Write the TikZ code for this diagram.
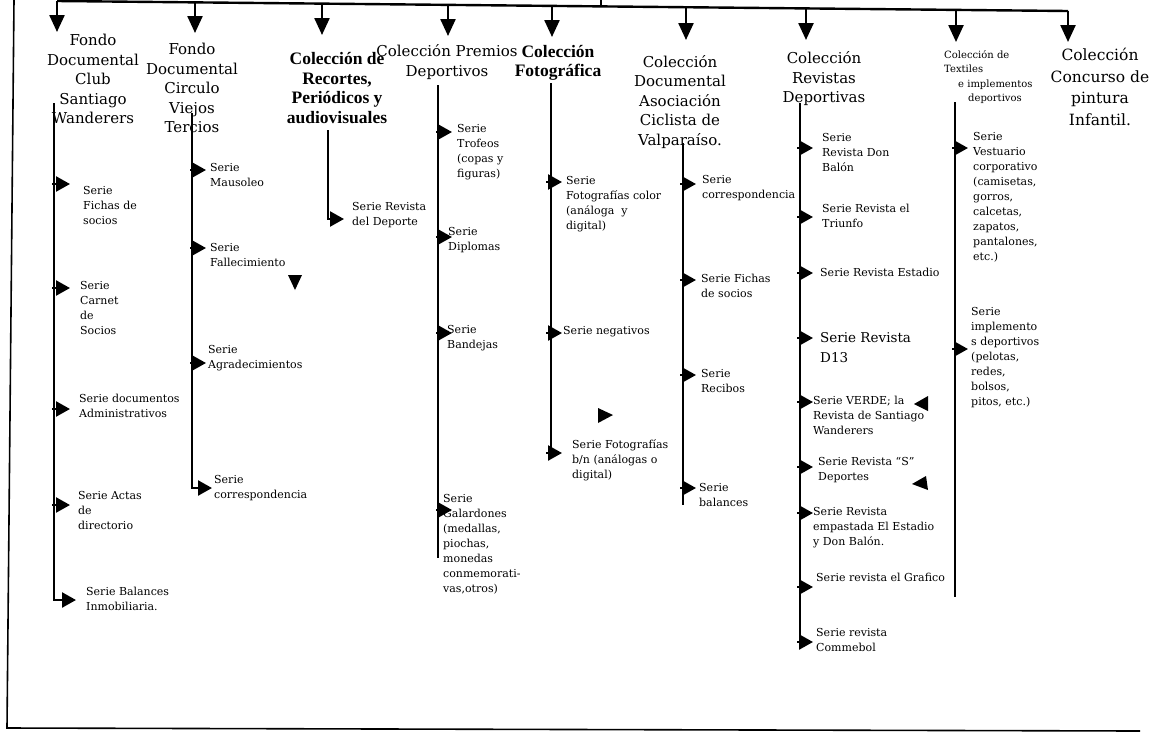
\documentclass[tikz,border=0pt]{standalone}
\usepackage{fontspec}
\setmainfont{DejaVu Serif}
\newfontfamily\boldtitle{Liberation Serif}
\usetikzlibrary{arrows.meta}
\begin{document}
\begin{tikzpicture}[x=1pt,y=-1pt,
  ln/.style={line width=2.4pt},
  downarr/.style={ln,-{Triangle[length=17pt,width=15pt]}},
  sarr/.style={ln,-{Triangle[length=14pt,width=15pt]}},
  ttl/.style={align=center,inner sep=0pt,font=\fontsize{15}{19.5}\selectfont},
  bttl/.style={align=center,inner sep=0pt,font=\boldtitle\bfseries\fontsize{17.5}{19.5}\selectfont},
  ser/.style={align=left,anchor=west,inner sep=0pt,font=\fontsize{11}{15}\selectfont},
  stray/.style={fill=black}
]
\useasboundingbox (0,0) rectangle (1173,740);
% frame
\draw[line width=1.6pt] (14,0) -- (7,728) -- (1140,731);
% top bus
\coordinate (h1) at (57,1);
\coordinate (h2) at (195,2.4);
\coordinate (h3) at (322,3.6);
\coordinate (h4) at (448,4.9);
\coordinate (h5) at (552,5.9);
\coordinate (hp) at (601,6.4);
\coordinate (h6) at (686,7.2);
\coordinate (h7) at (806,8.4);
\coordinate (h8) at (956,9.9);
\coordinate (h9) at (1068,11);
\coordinate (up) at (601,0);
\draw[ln] (h1) -- (h9);
\draw[ln] (up) -- (hp);
\draw[downarr] (h1) -- (57,32);
\draw[downarr] (h2) -- (195,33);
\draw[downarr] (h3) -- (322,35);
\draw[downarr] (h4) -- (448,36);
\draw[downarr] (h5) -- (552,37);
\draw[downarr] (h6) -- (686,40);
\draw[downarr] (h7) -- (806,40);
\draw[downarr] (h8) -- (956,42);
\draw[downarr] (h9) -- (1068,42);
% titles
\node[ttl] (t1) at (93,79) {Fondo\\Documental\\Club\\Santiago\\Wanderers};
\node[ttl] (t2) at (192,88) {Fondo\\Documental\\Circulo\\Viejos\\Tercios};
\node[bttl] (t3) at (337,88) {Colección de\\Recortes,\\Periódicos y\\audiovisuales};
\node[ttl] (t4) at (447,62) {Colección Premios\\Deportivos};
\node[bttl] (t5) at (558,63) {Colección\\Fotográfica};
\node[ttl] (t6) at (680,102) {Colección\\Documental\\Asociación\\Ciclista de\\Valparaíso.};
\node[ttl] (t7) at (824,79) {Colección\\Revistas\\Deportivas};
\node[align=left,anchor=west,inner sep=0pt,font=\fontsize{10}{14.5}\selectfont] (t8) at (944,77) {Colección de\\Textiles\\\hspace*{14pt}e implementos\\\hspace*{24pt}deportivos};
\node[ttl,font=\fontsize{15.5}{21.5}\selectfont] (t9) at (1100,87) {Colección\\Concurso de\\pintura\\Infantil.};
% column 1
\coordinate (v1a) at (54,103);
\coordinate (v1b) at (54,600);
\coordinate (v1c) at (76,600);
\draw[sarr] (v1a) -- (v1b) -- (v1c);
\foreach \y in {184,288,409,505} \draw[sarr] (52,\y) -- (70,\y);
\node[ser] (s11) at (83,205) {Serie\\Fichas de\\socios};
\node[ser] (s12) at (80,308) {Serie\\Carnet\\de\\Socios};
\node[ser] (s13) at (79,406) {Serie documentos\\Administrativos};
\node[ser] (s14) at (78,510) {Serie Actas\\de\\directorio};
\node[ser] (s15) at (86,599) {Serie Balances\\Inmobiliaria.};
% column 2
\coordinate (v2a) at (192,113);
\coordinate (v2b) at (192,488);
\coordinate (v2c) at (212,488);
\draw[sarr] (v2a) -- (v2b) -- (v2c);
\foreach \y in {170,248,363} \draw[sarr] (190,\y) -- (206,\y);
\node[ser] (s21) at (210,175) {Serie\\Mausoleo};
\node[ser] (s22) at (210,255) {Serie\\Fallecimiento};
\node[ser] (s23) at (208,358) {Serie\\Agradecimientos};
\node[ser] (s24) at (214,488) {Serie\\correspondencia};
\fill[stray] (288,275) -- (302,275) -- (295,290) -- cycle;
% column 3
\coordinate (v3a) at (328,130);
\coordinate (v3b) at (328,219);
\coordinate (v3c) at (344,219);
\draw[sarr] (v3a) -- (v3b) -- (v3c);
\node[ser] (s31) at (352,215) {Serie Revista\\del Deporte};
% column 4
\coordinate (v4a) at (438,85);
\coordinate (v4b) at (438,558);
\draw[ln] (v4a) -- (v4b);
\foreach \y in {132,237,333,510} \draw[sarr] (436,\y) -- (452,\y);
\node[ser] (s41) at (457,152) {Serie\\Trofeos\\(copas y\\figuras)};
\node[ser] (s42) at (448,240) {Serie\\Diplomas};
\node[ser] (s43) at (447,338) {Serie\\Bandejas};
\node[ser] (s44) at (443,544) {Serie\\Galardones\\(medallas,\\piochas,\\monedas\\conmemorati-\\vas,otros)};
% column 5
\coordinate (v5a) at (551,83);
\coordinate (v5b) at (551,453);
\draw[ln] (v5a) -- (v5b);
\foreach \y in {182,333,453} \draw[sarr] (546,\y) -- (562,\y);
\node[ser] (s51) at (566,204) {Serie\\Fotografías color\\(análoga~ y\\digital)};
\node[ser] (s52) at (563,332) {Serie negativos};
\node[ser] (s53) at (572,460) {Serie Fotografías\\b/n (análogas o\\digital)};
\fill[stray] (598,408) -- (598,423) -- (613,415) -- cycle;
% column 6
\coordinate (v6a) at (683,143);
\coordinate (v6b) at (683,505);
\draw[ln] (v6a) -- (v6b);
\foreach \y in {184,280,375,488} \draw[sarr] (680,\y) -- (696,\y);
\node[ser] (s61) at (702,188) {Serie\\correspondencia};
\node[ser] (s62) at (701,286) {Serie Fichas\\de socios};
\node[ser] (s63) at (701,381) {Serie\\Recibos};
\node[ser] (s64) at (699,495) {Serie\\balances};
% column 7
\coordinate (v7a) at (800,103);
\coordinate (v7b) at (800,642);
\draw[ln] (v7a) -- (v7b);
\foreach \y in {148,217,273,338,402,467,513,587,642} \draw[sarr] (797,\y) -- (813,\y);
\node[ser] (s71) at (822,152) {Serie\\Revista Don\\Balón};
\node[ser] (s72) at (822,216) {Serie Revista el\\Triunfo};
\node[ser] (s73) at (820,272) {Serie Revista Estadio};
\node[ser,font=\fontsize{13.5}{20}\selectfont] (s74) at (820,348) {Serie Revista\\D13};
\node[ser] (s75) at (813,415) {Serie VERDE; la\\Revista de Santiago\\Wanderers};
\node[ser] (s76) at (818,470) {Serie Revista “S”\\Deportes};
\node[ser] (s77) at (813,528) {Serie Revista\\empastada El Estadio\\y Don Balón.};
\node[ser] (s78) at (816,577) {Serie revista el Grafico};
\node[ser] (s79) at (816,640) {Serie revista\\Commebol};
\fill[stray] (914,404) -- (928,396) -- (928,411) -- cycle;
\fill[stray] (912,484) -- (926,476) -- (928,490) -- cycle;
% column 8
\coordinate (v8a) at (955,102);
\coordinate (v8b) at (955,597);
\draw[ln] (v8a) -- (v8b);
\foreach \y in {148,349} \draw[sarr] (952,\y) -- (968,\y);
\node[ser] (s81) at (973,197) {Serie\\Vestuario\\corporativo\\(camisetas,\\gorros,\\calcetas,\\zapatos,\\pantalones,\\etc.)};
\node[ser] (s82) at (971,358) {Serie\\implemento\\s deportivos\\(pelotas,\\redes,\\bolsos,\\pitos, etc.)};
\end{tikzpicture}
\end{document}
